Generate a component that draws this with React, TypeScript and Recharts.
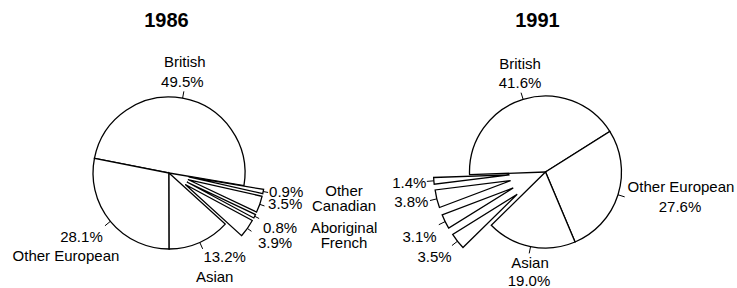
import { PieChart, Pie, Cell, Sector } from 'recharts'

const categories = ['British', 'Other European', 'Asian', 'French', 'Aboriginal', 'Canadian', 'Other']
const values1986 = [49.5, 28.1, 13.2, 3.9, 0.8, 3.5, 0.9]
const values1991 = [41.6, 27.6, 19.0, 3.5, 3.1, 3.8, 1.4]
const smallGroups = ['French', 'Aboriginal', 'Canadian', 'Other']
const years = ['1986', '1991']

const data1986 = categories.map((name, i) => ({ name, value: values1986[i] }))
const data1991 = categories.map((name, i) => ({ name, value: values1991[i] }))

const FONT = '"Liberation Sans", Arial, sans-serif'
const RAD = Math.PI / 180

type Place = {
  lines: string[]
  dx: number[]
  dy: number
  anchor: 'start' | 'middle' | 'end'
  len: number
  lh?: number
  legendDy?: number
}

// where the text sits, relative to the outer end of each leader line
const place1986: Record<string, Place> = {
  British: { lines: ['name', 'value'], dx: [1, -1.5], dy: -24, anchor: 'middle', len: 7 },
  'Other European': { lines: ['value', 'name'], dx: [-23.5, -39], dy: 16, anchor: 'middle', len: 7 },
  Asian: { lines: ['value', 'name'], dx: [22, 12], dy: 13.5, anchor: 'middle', len: 7 },
  French: { lines: ['value'], dx: [6.5], dy: 16.7, anchor: 'start', len: 5 },
  Aboriginal: { lines: ['value'], dx: [3.8], dy: 14.4, anchor: 'start', len: 5 },
  Canadian: { lines: ['value'], dx: [3.6], dy: 3.4, anchor: 'start', len: 5, legendDy: 2 },
  Other: { lines: ['value'], dx: [1], dy: 4.2, anchor: 'start', len: 5, legendDy: -0.5 }
}

const place1991: Record<string, Place> = {
  British: { lines: ['name', 'value'], dx: [-1, -1], dy: -23.7, anchor: 'middle', len: 7 },
  'Other European': { lines: ['name', 'value'], dx: [56.3, 55.3], dy: -4.4, anchor: 'middle', len: 7 },
  Asian: { lines: ['name', 'value'], dx: [0.8, -0.2], dy: 14.3, anchor: 'middle', len: 7, lh: 18.5 },
  French: { lines: ['value'], dx: [-0.3], dy: 16.1, anchor: 'end', len: 7 },
  Aboriginal: { lines: ['value'], dx: [-2.1], dy: 17, anchor: 'end', len: 7 },
  Canadian: { lines: ['value'], dx: [-1.5], dy: 6.8, anchor: 'end', len: 7 },
  Other: { lines: ['value'], dx: [-0.5], dy: 6.9, anchor: 'end', len: 7 }
}

const textStyle = { fontFamily: FONT, fontSize: 15, fill: '#000' }
const titleStyle = { fontFamily: FONT, fontSize: 20, fontWeight: 'bold' as const, fill: '#000' }

// draws the pulled-out small slices, the leader ticks and the texts
function makeLabel(explode: number, place: Record<string, Place>, legendDx?: number) {
  return (props: any) => {
    const { cx, cy, outerRadius, startAngle, endAngle } = props
    const name: string = props.payload?.name ?? props.name
    const value: number = props.payload?.value ?? props.value
    const mid = (startAngle + endAngle) / 2
    const cos = Math.cos(-mid * RAD)
    const sin = Math.sin(-mid * RAD)
    const out = smallGroups.includes(name)
    const shift = out ? explode : 0
    const ox = cx + shift * cos
    const oy = cy + shift * sin
    const p = place[name]
    const lh = p.lh ?? 19.5
    const x1 = ox + outerRadius * cos
    const y1 = oy + outerRadius * sin
    const x2 = ox + (outerRadius + p.len) * cos
    const y2 = oy + (outerRadius + p.len) * sin
    const pct = `${value.toFixed(1)}%`
    return (
      <g key={name}>
        {out && (
          <Sector
            cx={ox}
            cy={oy}
            innerRadius={0}
            outerRadius={outerRadius}
            startAngle={startAngle}
            endAngle={endAngle}
            fill="#fff"
            stroke="#000"
            strokeWidth={1.3}
          />
        )}
        <line x1={x1} y1={y1} x2={x2} y2={y2} stroke="#000" strokeWidth={1} />
        {p.lines.map((kind, i) => (
          <text
            key={kind}
            x={x2 + p.dx[i]}
            y={y2 + p.dy + i * lh}
            textAnchor={p.anchor}
            style={textStyle}
          >
            {kind === 'name' ? name : pct}
          </text>
        ))}
        {out && legendDx !== undefined && (
          <text
            x={cx + legendDx}
            y={y2 + p.dy + (p.legendDy ?? 0)}
            textAnchor="middle"
            style={textStyle}
          >
            {name}
          </text>
        )}
      </g>
    )
  }
}

export default function App() {
  return (
    <div style={{ position: 'absolute', left: 0, top: 0, width: 737, height: 288, background: '#fff' }}>
      <PieChart width={737} height={288} margin={{ top: 0, right: 0, bottom: 0, left: 0 }}>
        <text x={166.5} y={27} textAnchor="middle" style={titleStyle}>
          {years[0]}
        </text>
        <text x={537.5} y={27} textAnchor="middle" style={titleStyle}>
          {years[1]}
        </text>
        <Pie
          data={data1986}
          dataKey="value"
          nameKey="name"
          cx={169}
          cy={173}
          outerRadius={76}
          startAngle={-9.5}
          endAngle={350.5}
          stroke="#000"
          strokeWidth={1.3}
          labelLine={false}
          label={makeLabel(20, place1986, 175)}
          isAnimationActive={false}
        >
          {data1986.map(d => (
            <Cell
              key={d.name}
              fill={smallGroups.includes(d.name) ? 'none' : '#fff'}
              stroke={smallGroups.includes(d.name) ? 'none' : '#000'}
            />
          ))}
        </Pie>
        <Pie
          data={data1991}
          dataKey="value"
          nameKey="name"
          cx={545.5}
          cy={172}
          outerRadius={76}
          startAngle={182}
          endAngle={-178}
          stroke="#000"
          strokeWidth={1.3}
          labelLine={false}
          label={makeLabel(36, place1991)}
          isAnimationActive={false}
        >
          {data1991.map(d => (
            <Cell
              key={d.name}
              fill={smallGroups.includes(d.name) ? 'none' : '#fff'}
              stroke={smallGroups.includes(d.name) ? 'none' : '#000'}
            />
          ))}
        </Pie>
      </PieChart>
    </div>
  )
}
